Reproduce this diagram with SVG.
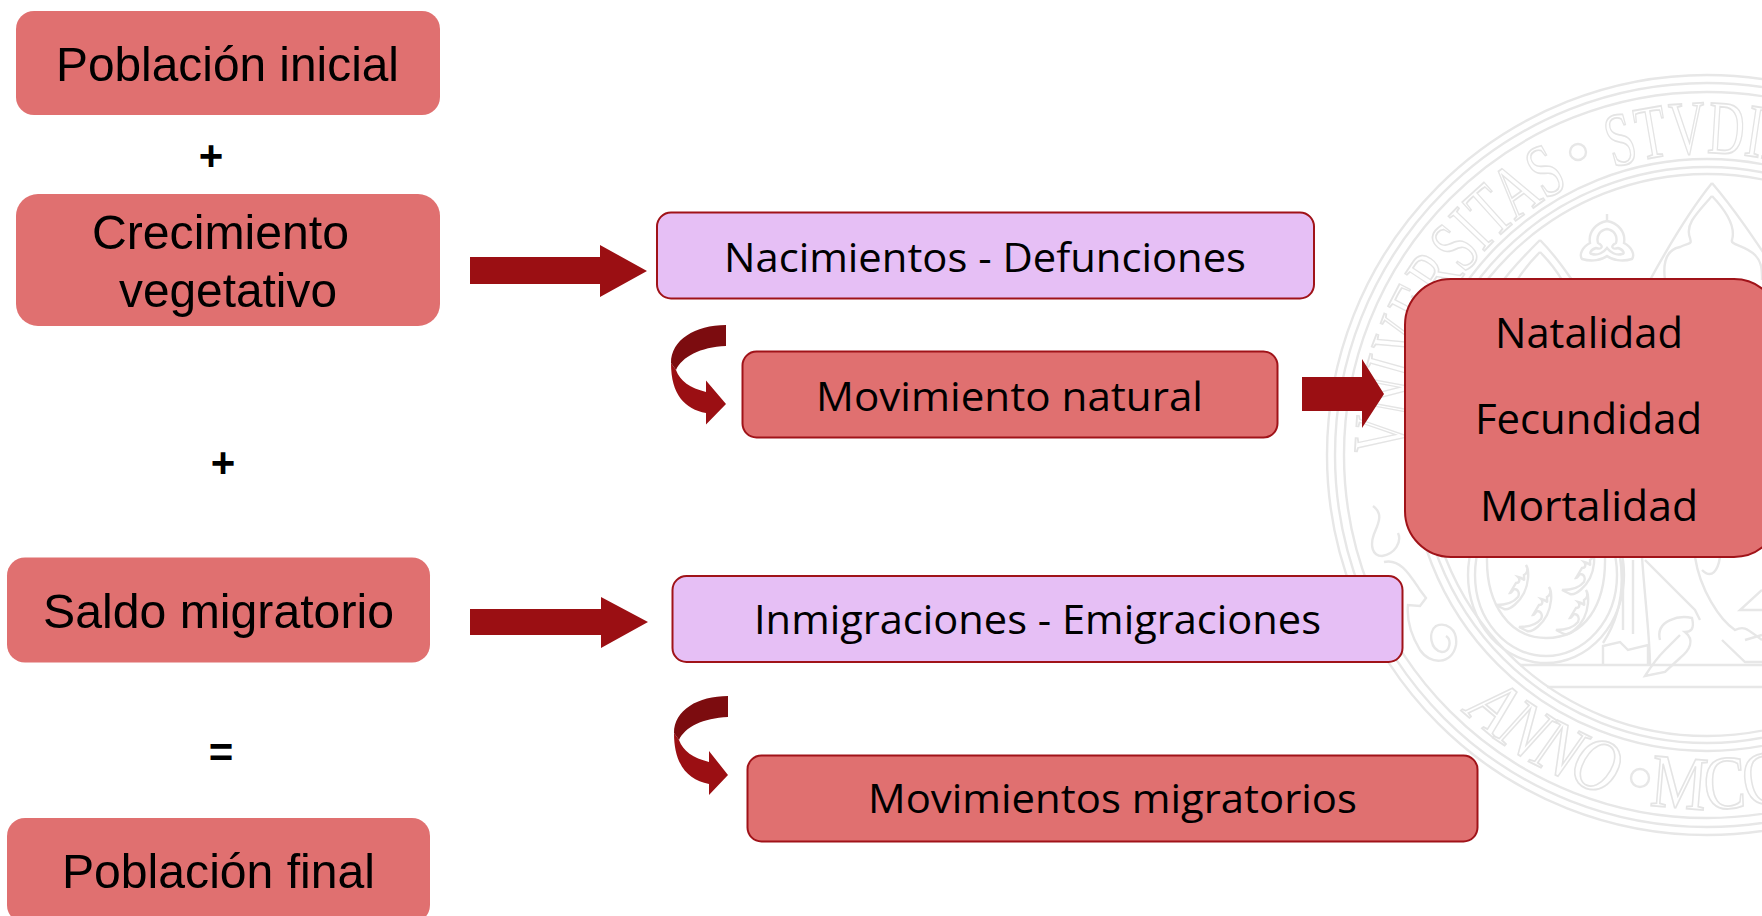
<svg xmlns="http://www.w3.org/2000/svg" width="1762" height="916" viewBox="0 0 1762 916">
<style>
.red{fill:#e07070}
.lil{fill:#e6bff5}
.ln{stroke:#a01319;stroke-width:2}
.a{font-family:"Liberation Sans",Arial,sans-serif;font-size:49px;fill:#000}
.c{font-family:"Open Sans","Noto Sans",sans-serif;font-size:41px;fill:#000}
.t{font-family:"Open Sans","Noto Sans",sans-serif;font-size:42px;fill:#000}
.op{font-family:"Liberation Sans",Arial,sans-serif;font-size:42px;font-weight:bold;fill:#000;text-anchor:middle}
.arrow{fill:#9b0f13}
.dark{fill:#7c0c0f}
.seal{fill:none;stroke:#e7e7e7;stroke-width:2.4}
.st{font-family:"Liberation Serif",serif;font-size:76px;fill:#fff;stroke:#e4e4e4;stroke-width:1.8}
</style>
<defs>
<path id="top" d="M1405 455A302 302 0 0 1 2009 455"/>
<path id="botp" d="M1353 455A354 354 0 0 0 2061 455"/>
<path id="crown" d="M0 20C10 20 18 17 22 12C24 8 22 4 18 4C16 6 16 8 14 8L20 -2C24 -2 24 -6 22 -8C30 -6 28 -2 28 -10C32 -12 32 -16 30 -20C34 -14 32 0 28 8C24 16 14 26 8 24Z"/>
</defs>
<g id="seal">
<circle class="seal" cx="1707" cy="455" r="380"/>
<circle class="seal" cx="1707" cy="455" r="372"/>
<circle class="seal" cx="1707" cy="455" r="363"/>
<circle class="seal" cx="1707" cy="455" r="296"/>
<circle class="seal" cx="1707" cy="455" r="288"/>
<circle class="seal" cx="1707" cy="455" r="281"/>
<text class="st"><textPath href="#top" startOffset="0" textLength="332" lengthAdjust="spacingAndGlyphs">VNIVERSITAS</textPath></text>
<text class="st"><textPath href="#top" startOffset="379" textLength="165" lengthAdjust="spacingAndGlyphs">STVDII</textPath></text>
<circle class="seal" cx="1578" cy="152" r="8"/>
<text class="st" font-style="italic"><textPath href="#botp" startOffset="288" textLength="170" lengthAdjust="spacingAndGlyphs">ANNO</textPath></text>
<text class="st"><textPath href="#botp" startOffset="498" textLength="140" lengthAdjust="spacingAndGlyphs">MCC</textPath></text>
<circle class="seal" cx="1640" cy="778" r="9"/>
<path class="seal" d="M1712 183C1690 210 1672 240 1650 280M1712 183C1735 210 1755 240 1775 270M1712 196C1695 215 1685 225 1690 238C1692 245 1690 242 1680 247C1665 250 1663 265 1665 280M1712 196C1730 215 1735 230 1732 240C1730 245 1745 245 1755 255C1762 262 1762 270 1762 280"/>
<path class="seal" d="M1540 240C1525 255 1510 270 1500 285M1540 240C1555 255 1565 270 1572 280M1540 252C1530 262 1522 272 1516 282M1540 252C1550 262 1556 270 1562 280"/>
<path class="seal" d="M1607 214V221C1618 223 1626 232 1624 243C1632 247 1635 255 1632 259C1622 262 1612 260 1607 256C1602 260 1592 262 1582 259C1579 255 1582 247 1590 243C1588 232 1596 223 1607 221Z"/>
<path class="seal" d="M1607 229C1600 230 1596 236 1598 243C1604 246 1602 250 1596 248C1590 250 1589 254 1592 254C1598 256 1604 252 1607 248C1610 252 1616 256 1622 254C1625 254 1624 250 1618 248C1612 250 1610 246 1616 243C1618 236 1614 230 1607 229Z"/>
<ellipse class="seal" cx="1546" cy="575" rx="78" ry="88"/>
<ellipse class="seal" cx="1546" cy="575" rx="71" ry="81"/>
<path class="seal" d="M1487 557C1486 605 1510 638 1546 638C1585 638 1606 605 1605 557"/>
<use href="#crown" class="seal" x="1496" y="585"/>
<use href="#crown" class="seal" x="1562" y="570"/>
<use href="#crown" class="seal" x="1519" y="607"/>
<use href="#crown" class="seal" x="1556" y="610"/>
<path class="seal" d="M1373 506C1384 514 1378 524 1374 534C1370 545 1372 556 1382 556C1395 554 1402 542 1398 533M1384 562C1400 558 1410 575 1420 590L1426 598L1420 606L1408 605C1406 625 1414 640 1420 650C1430 665 1452 665 1456 645C1458 628 1445 622 1436 626C1428 632 1430 650 1442 652C1450 652 1452 640 1446 636"/>
<path class="seal" d="M1620 557C1625 590 1618 620 1603 643M1623 560V630M1633 560V634M1642 557C1645 600 1650 640 1650 665M1520 665L1762 665M1547 687L1762 687"/>
<path class="seal" d="M1603 665V646L1620 642L1628 650L1648 645V665"/>
<path class="seal" d="M1645 560L1695 610L1700 620M1660 640C1655 620 1680 615 1692 618C1695 630 1690 632 1685 632C1695 640 1690 650 1680 658L1665 672L1645 676C1650 668 1655 660 1665 650L1680 635"/>
<path class="seal" d="M1695 557C1700 590 1720 620 1735 630C1745 625 1748 630 1762 640M1720 557C1718 570 1712 580 1702 570M1762 590L1740 610H1762M1722 640L1745 662H1762M1762 635L1745 640"/>
</g>
<g id="connectors">
<path id="arrow-crecimiento" class="arrow" d="M470 257H600V245L647 271L600 297V284H470Z"/>
<path id="arrow-saldo" class="arrow" d="M470 609H601V597L648 622L601 648V635H470Z"/>
<path id="arrow-natural" class="arrow" d="M1302 377H1362V359L1384 394L1362 428V411H1302Z"/>
<g id="curve-natural">
<path class="arrow" d="M671 363C671 395 685 409 706 413V424.500L726 404L706 380.500V392C690 388 680 381 676 370Z"/>
<path class="dark" d="M726 325V346C700 347 682 357 676 370L671 363C671 340 695 325 726 325Z"/>
</g>
<g id="curve-migratorio">
<path class="arrow" d="M674 733C674 765 688 780 709 784V795L728 775L709 751V762C693 758 683 751 679 740Z"/>
<path class="dark" d="M728 696V717C703 718 685 727 679 740L674 733C674 710 698 696 728 696Z"/>
</g>
</g>
<g id="node-poblacion-inicial"><rect class="red" x="16" y="11" width="424" height="104" rx="18"/><text class="a" x="56" y="81" textLength="343" lengthAdjust="spacingAndGlyphs">Población inicial</text></g>
<text class="op" x="211" y="170">+</text>
<g id="node-crecimiento"><rect class="red" x="16" y="194" width="424" height="132" rx="22"/><text class="a" x="92" y="249" textLength="257" lengthAdjust="spacingAndGlyphs">Crecimiento</text><text class="a" x="119" y="307" textLength="218" lengthAdjust="spacingAndGlyphs">vegetativo</text></g>
<text class="op" x="223" y="477">+</text>
<g id="node-saldo"><rect class="red" x="7" y="557.500" width="423" height="105" rx="18"/><text class="a" x="43" y="628" textLength="351" lengthAdjust="spacingAndGlyphs">Saldo migratorio</text></g>
<text class="op" x="221" y="767">=</text>
<g id="node-poblacion-final"><rect class="red" x="7" y="818" width="423" height="105" rx="18"/><text class="a" x="62" y="888" textLength="313" lengthAdjust="spacingAndGlyphs">Población final</text></g>
<g id="node-nacimientos"><rect class="lil ln" x="657" y="212.500" width="657" height="86" rx="14"/><text class="c" x="724" y="272" textLength="522" lengthAdjust="spacingAndGlyphs">Nacimientos - Defunciones</text></g>
<g id="node-movimiento-natural"><rect class="red ln" x="742.500" y="351.500" width="535" height="86" rx="14"/><text class="c" x="816" y="411" textLength="387" lengthAdjust="spacingAndGlyphs">Movimiento natural</text></g>
<g id="node-inmigraciones"><rect class="lil ln" x="672.500" y="576" width="730" height="86" rx="14"/><text class="c" x="754" y="634" textLength="567" lengthAdjust="spacingAndGlyphs">Inmigraciones - Emigraciones</text></g>
<g id="node-movimientos-migratorios"><rect class="red ln" x="747.500" y="755.500" width="730" height="86" rx="14"/><text class="c" x="868" y="813" textLength="489" lengthAdjust="spacingAndGlyphs">Movimientos migratorios</text></g>
<g id="node-tasas"><rect class="red ln" x="1405" y="279" width="375" height="278" rx="46"/><text class="t" x="1495" y="348" textLength="188" lengthAdjust="spacingAndGlyphs">Natalidad</text><text class="t" x="1475" y="434" textLength="227" lengthAdjust="spacingAndGlyphs">Fecundidad</text><text class="t" x="1480" y="521" textLength="218" lengthAdjust="spacingAndGlyphs">Mortalidad</text></g>
</svg>
